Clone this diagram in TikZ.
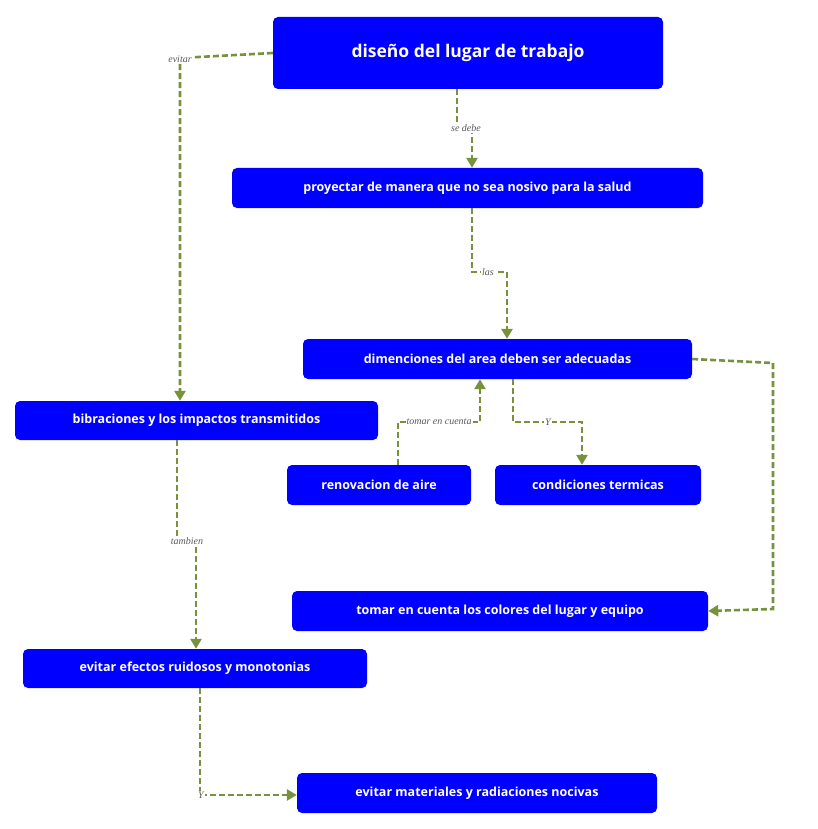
\documentclass[tikz,border=0pt]{standalone}
\usepackage{fontspec}
\setmainfont{Open Sans}
\newfontfamily\lblfont{Liberation Serif}
\usetikzlibrary{arrows.meta}
\definecolor{boxblue}{HTML}{0000FF}
\definecolor{conn}{HTML}{76923C}
\tikzset{
  x=1pt,y=-1pt,
  box/.style={fill=boxblue,rounded corners=5pt,text=white,font=\bfseries\fontsize{12.5}{14}\selectfont,inner sep=0pt},
  conline/.style={draw=conn,line width=2.6pt,dash pattern=on 6pt off 3pt},
  arr/.style={conline,-{Triangle[length=10pt,width=11pt]}},
  lbl/.style={fill=white,text=black!65,font=\lblfont\itshape\fontsize{10}{12}\selectfont,inner sep=1pt}
}
\begin{document}
\begin{tikzpicture}
\useasboundingbox[fill=white] (0,0) rectangle (818,829);
\node[box,minimum width=390,minimum height=72,font=\bfseries\fontsize{17.5}{20}\selectfont] (top) at (468,53) {diseño del lugar de trabajo};
\node[box,minimum width=471,minimum height=40] (pro) at (467.5,188) {proyectar de manera que no sea nosivo para la salud};
\node[box,minimum width=389,minimum height=40] (dim) at (497.5,359) {dimenciones del area deben ser adecuadas};
\node[box,minimum width=363,minimum height=39] (bib) at (196.5,420.5) {bibraciones y los impactos transmitidos};
\node[box,minimum width=184,minimum height=40] (ren) at (379,485) {renovacion de aire};
\node[box,minimum width=206,minimum height=40] (con) at (598,485) {condiciones termicas};
\node[box,minimum width=416,minimum height=40] (col) at (500,611) {tomar en cuenta los colores del lugar y equipo};
\node[box,minimum width=344,minimum height=39] (efe) at (195,668.5) {evitar efectos ruidosos y monotonias};
\node[box,minimum width=360,minimum height=40] (mat) at (477,793) {evitar materiales y radiaciones nocivas};

\draw[arr] (top.south -| 457,0) -- (457,128) -- (472,128) -- (pro.north -| 472,0);
\node[lbl] (l1) at (466,128) {se debe};
\draw[arr] (pro.south -| 472,0) -- (472,272) -- (507,272) -- (dim.north -| 507,0);
\node[lbl] (l2) at (488,272) {las};
\draw[arr] (top.west) -- (180,58) -- (bib.north -| 180,0);
\node[lbl] (l3) at (180,59) {evitar};
\draw[arr] (dim.east) -- (773,363) -- (773,609) -- (col.east);
\draw[arr] (ren.north -| 398,0) -- (398,422) -- (480,422) -- (dim.south -| 480,0);
\node[lbl] (l4) at (439,422) {tomar en cuenta};
\draw[arr] (dim.south -| 513,0) -- (513,422) -- (582,422) -- (con.north -| 582,0);
\node[lbl] (l5) at (548,422) {Y};
\draw[arr] (bib.south -| 177,0) -- (177,541) -- (196,541) -- (efe.north -| 196,0);
\node[lbl] (l6) at (187,541) {tambien};
\draw[arr] (efe.south -| 200,0) -- (200,795) -- (mat.west |- 0,795);
\node[lbl] (l7) at (201,795) {Y};
\end{tikzpicture}
\end{document}
